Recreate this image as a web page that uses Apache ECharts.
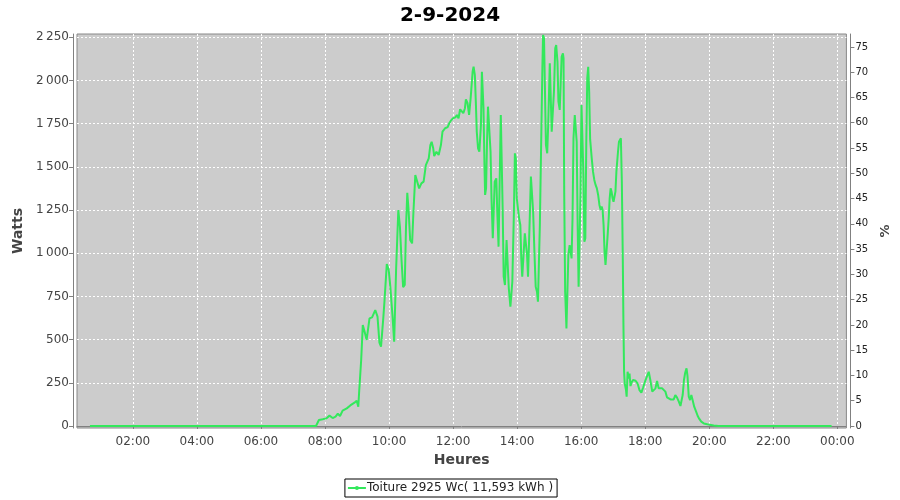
<!DOCTYPE html>
<html><head><meta charset="utf-8">
<script src="https://cdn.jsdelivr.net/npm/echarts@6/dist/echarts.min.js"></script>
<style>html,body{margin:0;padding:0;background:#fff}#c{width:900px;height:500px}</style>
</head><body><div id="c"></div>
<script>
const chartTitle = '2-9-2024';
const seriesName = 'Toiture 2925 Wc( 11,593 kWh )';
const peakPower = 2925;
const xAxisName = 'Heures';
const leftAxisName = 'Watts';
const rightAxisName = '%';

// time of day in hours
const hours = [
  0.66, 1.5, 3.0, 4.5, 6.0, 7.0, 7.5, 7.72,
  7.81, 7.93, 8.04, 8.14, 8.24, 8.33, 8.40, 8.47, 8.55, 8.68, 8.79, 8.92, 8.99,
  9.04, 9.07, 9.13, 9.18, 9.25, 9.30, 9.39, 9.47, 9.57, 9.64, 9.70, 9.75, 9.82, 9.86, 9.93, 9.99,
  10.04, 10.11, 10.16, 10.22, 10.29, 10.34, 10.39, 10.44, 10.49, 10.53, 10.57, 10.61, 10.66, 10.72, 10.76, 10.82, 10.87, 10.94,
  11.01, 11.08, 11.15, 11.24, 11.29, 11.33, 11.38, 11.41, 11.48, 11.55, 11.62, 11.67, 11.75, 11.83, 11.88, 11.93,
  12.00, 12.07, 12.12, 12.17, 12.22, 12.27, 12.32, 12.37, 12.40, 12.45, 12.50, 12.55, 12.61, 12.64, 12.68, 12.71, 12.74, 12.78, 12.82, 12.87, 12.90, 12.92, 12.95, 12.98,
  13.00, 13.03, 13.06, 13.09, 13.14, 13.17, 13.20, 13.24, 13.27, 13.30, 13.35, 13.38, 13.42, 13.46, 13.49, 13.52, 13.55, 13.58, 13.62, 13.67, 13.71, 13.74, 13.79, 13.82, 13.85, 13.90, 13.93, 13.96, 13.99,
  14.03, 14.07, 14.10, 14.13, 14.16, 14.21, 14.24, 14.27, 14.31, 14.34, 14.37, 14.40, 14.43, 14.46, 14.50, 14.54, 14.58, 14.62, 14.65, 14.68, 14.71, 14.76, 14.79, 14.81, 14.84, 14.87, 14.90, 14.94, 14.97,
  15.02, 15.05, 15.08, 15.12, 15.15, 15.19, 15.22, 15.26, 15.29, 15.33, 15.36, 15.39, 15.43, 15.45, 15.47, 15.50, 15.54, 15.57, 15.60, 15.64, 15.67, 15.70, 15.73, 15.76, 15.80, 15.83, 15.86, 15.89, 15.92, 15.95, 15.98,
  16.01, 16.04, 16.07, 16.10, 16.13, 16.16, 16.19, 16.22, 16.25, 16.28, 16.33, 16.37, 16.41, 16.45, 16.49, 16.53, 16.57, 16.61, 16.64, 16.67, 16.70, 16.73, 16.76, 16.79, 16.82, 16.86, 16.89, 16.92, 16.95, 16.98,
  17.01, 17.04, 17.07, 17.10, 17.15, 17.18, 17.21, 17.24, 17.27, 17.30, 17.32, 17.34, 17.36, 17.40, 17.42, 17.45, 17.48, 17.51, 17.54, 17.57, 17.62, 17.70, 17.76, 17.82, 17.88, 17.93,
  18.01, 18.06, 18.11, 18.16, 18.22, 18.27, 18.32, 18.37, 18.42, 18.47, 18.53, 18.58, 18.63, 18.68, 18.73, 18.79, 18.84, 18.89, 18.94, 18.99,
  19.05, 19.10, 19.13, 19.17, 19.21, 19.25, 19.29, 19.32, 19.36, 19.40, 19.44, 19.48, 19.53, 19.59, 19.64, 19.69, 19.75, 19.83, 19.90, 19.98,
  20.05, 20.14, 20.29, 21.0, 22.0, 23.0, 23.82
];
// power in watts
const watts = [
  0, 0, 0, 0, 0, 0, 0, 0,
  35, 39, 44, 60, 46, 54, 71, 58, 89, 102, 119, 135, 146,
  112, 208, 382, 584, 536, 498, 623, 629, 671, 633, 482, 459, 623, 729, 937, 903,
  806, 633, 488, 903, 1250, 1153, 961, 803, 816, 1153, 1350, 1250, 1076, 1057, 1231, 1452, 1443, 1375,
  1404, 1414, 1510, 1549, 1626, 1645, 1607, 1562, 1587, 1568, 1626, 1703, 1723, 1730, 1752, 1767,
  1781, 1786, 1800, 1781, 1833, 1829, 1810, 1839, 1890, 1870, 1800, 1900, 2050, 2079, 2031, 1877, 1703, 1607, 1587, 1742, 2050, 2050, 1838, 1510,
  1337, 1375, 1645, 1848, 1840, 1587, 1318, 1086, 1086, 1414, 1433, 1240, 1038, 1038, 1800, 1800, 1240, 864, 816, 1076, 1067, 797, 691, 691, 835, 1240, 1578, 1549, 1318,
  1250, 1192, 1163, 970, 864, 855, 1115, 1105, 990, 864, 864, 1240, 1443, 1433, 1240, 1009, 806, 777, 719, 719, 1163, 1742, 2089, 2263, 2244, 1935, 1626, 1578, 1742,
  2099, 2089, 1703, 1703, 1935, 2186, 2205, 2108, 1877, 1829, 1819, 2137, 2157, 2128, 1356, 777, 565, 777, 990, 1047, 1009, 970, 1202, 1665, 1800, 1810, 1645, 1163, 806, 816, 1356,
  1858, 1858, 1452, 1067, 1086, 1645, 2012, 2079, 1935, 1660, 1549, 1472, 1424, 1395, 1375, 1337, 1279, 1250, 1270, 1250, 1163, 1009, 932, 932, 1086, 1202, 1318, 1375, 1356, 1318,
  1298, 1298, 1356, 1472, 1587, 1645, 1655, 1665, 1414, 970, 584, 314, 247, 208, 170, 314, 275, 304, 231, 250, 266, 262, 247, 208, 193, 220,
  266, 290, 314, 266, 199, 210, 218, 260, 218, 225, 218, 225, 199, 166, 160, 154, 158, 154, 179, 166,
  141, 116, 122, 179, 266, 310, 334, 290, 170, 150, 179, 150, 112, 83, 58, 41, 25, 15, 12, 8,
  6, 3, 0, 0, 0, 0, 0
];
const wattTicks = [0, 250, 500, 750, 1000, 1250, 1500, 1750, 2000, 2250];
const percentTicks = [0, 5, 10, 15, 20, 25, 30, 35, 40, 45, 50, 55, 60, 65, 70, 75];
const hourTicks = [2, 4, 6, 8, 10, 12, 14, 16, 18, 20, 22, 24];

const hourMin = 0.2555, hourMax = 24.282;
const wattMin = -11.6, wattMax = 2268.5;

const data = hours.map((h, i) => [h, watts[i]]);
const FONT = 'DejaVu Sans';
const green = '#33e85c';

const chart = echarts.init(document.getElementById('c'), null, {renderer: 'canvas'});
chart.setOption({
  animation: false,
  textStyle: {fontFamily: FONT},
  title: {
    text: chartTitle, left: 'center', top: 1,
    textStyle: {fontFamily: FONT, fontSize: 20, fontWeight: 'bold', color: '#000'}
  },
  legend: {
    bottom: 3, left: 'center',
    borderColor: '#000', borderWidth: 1, padding: [3, 4, 3, 2],
    itemWidth: 18, itemHeight: 5, itemGap: 2,
    textStyle: {fontFamily: FONT, fontSize: 12, color: '#222', padding: [0, 0, 0, -4]},
    data: [seriesName]
  },
  grid: {
    left: 77, right: 52, top: 34, bottom: 72,
    show: true, backgroundColor: '#cccccc', borderColor: '#888', borderWidth: 1
  },
  xAxis: {
    type: 'value', min: hourMin, max: hourMax, offset: 4,
    name: xAxisName, nameLocation: 'middle', nameGap: 21,
    nameTextStyle: {fontFamily: FONT, fontSize: 14, fontWeight: 'bold', color: '#444'},
    axisLine: {show: true, lineStyle: {color: '#808080'}},
    axisTick: {show: true, length: 3, customValues: hourTicks, lineStyle: {color: '#808080'}},
    axisLabel: {
      customValues: hourTicks, fontSize: 12, color: '#444', margin: 4,
      formatter: v => String(Math.round(v) % 24).padStart(2, '0') + ':00'
    },
    splitLine: {show: true, lineStyle: {color: '#ffffff', type: [2, 2], width: 1}}
  },
  yAxis: [{
    type: 'value', position: 'left', min: wattMin, max: wattMax, offset: 4,
    name: leftAxisName, nameLocation: 'middle', nameGap: 45, nameRotate: 90,
    nameTextStyle: {fontFamily: FONT, fontSize: 14, fontWeight: 'bold', color: '#444'},
    axisLine: {show: true, lineStyle: {color: '#808080'}},
    axisTick: {show: true, length: 4, customValues: wattTicks, lineStyle: {color: '#808080'}},
    axisLabel: {
      customValues: wattTicks, fontSize: 12, color: '#444', margin: 4,
      formatter: v => String(Math.round(v)).replace(/\B(?=(\d{3})+(?!\d))/g, '\u2009')
    },
    splitLine: {show: true, lineStyle: {color: '#ffffff', type: [2, 2], width: 1}}
  }, {
    type: 'value', position: 'right', offset: 4,
    min: wattMin / peakPower * 100, max: wattMax / peakPower * 100,
    name: rightAxisName, nameLocation: 'middle', nameGap: 24, nameRotate: 90,
    nameTextStyle: {fontFamily: FONT, fontSize: 13, fontWeight: 'bold', color: '#444'},
    axisLine: {show: true, lineStyle: {color: '#808080'}},
    axisTick: {show: true, length: 4, customValues: percentTicks, lineStyle: {color: '#808080'}},
    axisLabel: {customValues: percentTicks, fontSize: 10, color: '#222', margin: 5},
    splitLine: {show: false}
  }],
  series: [{
    name: seriesName, type: 'line', xAxisIndex: 0, yAxisIndex: 0,
    data: data, showSymbol: false, symbol: 'circle', symbolSize: 3,
    lineStyle: {color: green, width: 2}, itemStyle: {color: green},
    clip: true
  }]
});
</script>
</body></html>
